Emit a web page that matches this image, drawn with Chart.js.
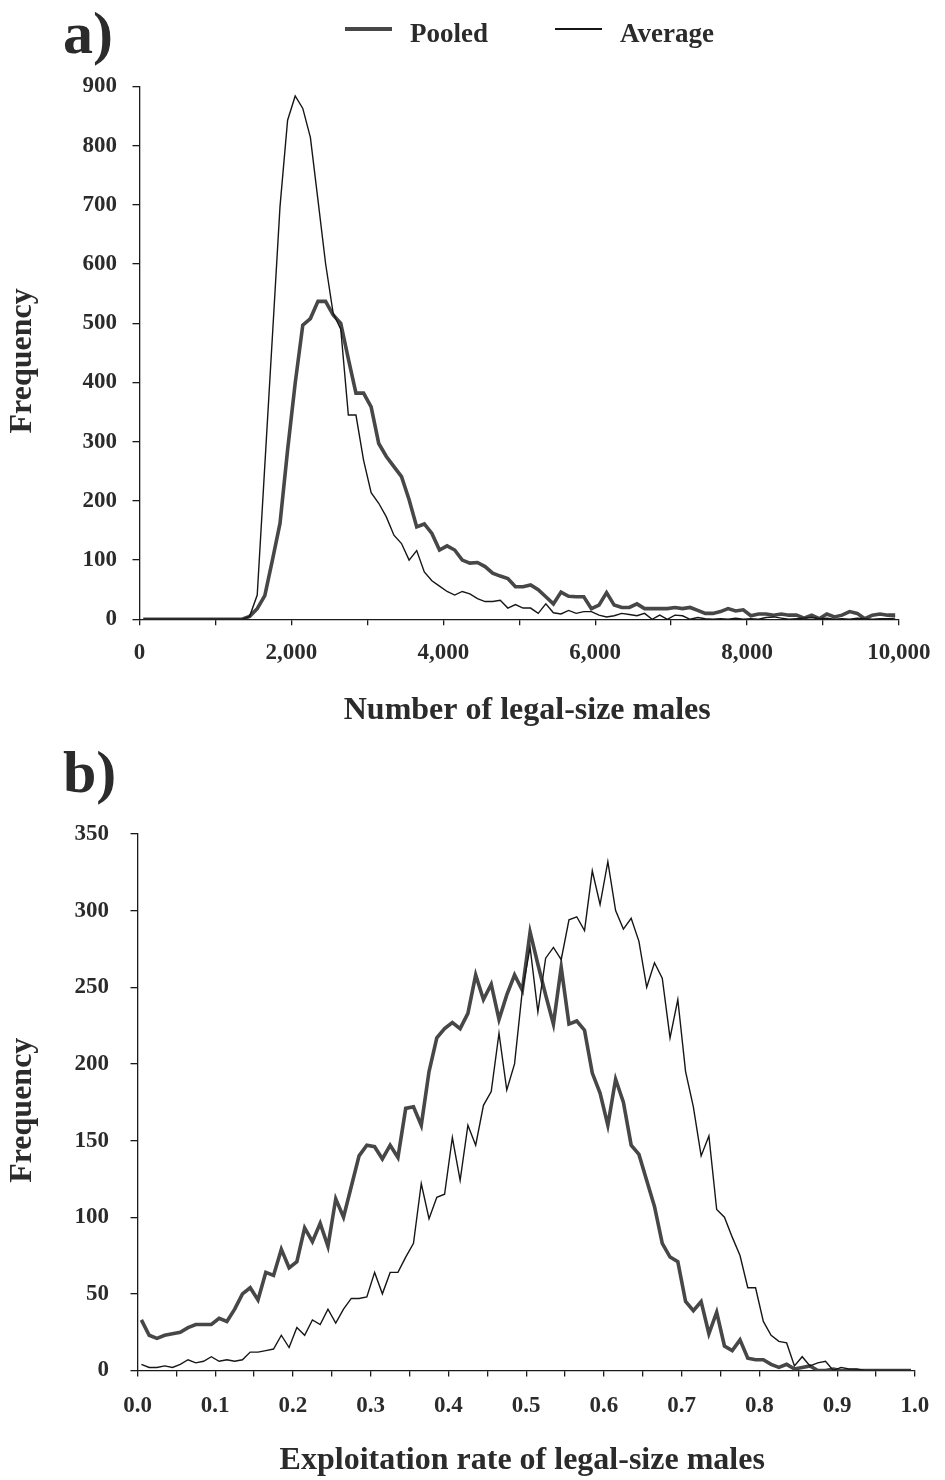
<!DOCTYPE html>
<html>
<head>
<meta charset="utf-8">
<title>Legal-size males: frequency distributions</title>
<script src="https://cdn.jsdelivr.net/npm/chart.js@4.4.1/dist/chart.umd.min.js"></script>
<style>
  html, body { margin: 0; padding: 0; background: #fff; }
  #figure {
    position: relative; width: 945px; height: 1480px; overflow: hidden;
    font-family: 'Liberation Serif', 'Times New Roman', serif; color: #2b2b2b;
  }
  #figure canvas { position: absolute; left: 0; }
  #chart-size { top: 0; }
  #chart-rate { top: 740px; }
  .panel-tag {
    position: absolute; left: 63px; z-index: 2;
    font-size: 60px; font-weight: bold; line-height: 60px;
  }
  #legend-size {
    position: absolute; left: 345px; top: 17.6px; z-index: 2;
    display: flex; font-size: 27px; font-weight: bold; line-height: 30px;
  }
  .lg-item { display: flex; align-items: flex-start; margin-right: 67px; }
  .lg-line { display: block; width: 47px; margin-right: 18px; }
</style>
</head>
<body>
<div id="figure">
  <canvas id="chart-size" width="945" height="740"></canvas>
  <canvas id="chart-rate" width="945" height="740"></canvas>
  <div class="panel-tag" style="top: 2.7px;">a)</div>
  <div class="panel-tag" style="top: 742.2px;">b)</div>
  <div id="legend-size"></div>
</div>
<script>
// a) number of legal-size males, bins of 100 animals
const SIZE_BIN_WIDTH = 100;
const SIZE_POOLED = [
  0, 0, 0, 0, 0, 0, 0, 0, 0, 0,
  0, 0, 0, 0, 5, 18, 40, 100, 162, 286,
  399, 497, 508, 537, 537, 514, 500, 440, 382, 382,
  359, 297, 275, 258, 241, 202, 156, 161, 145, 117,
  124, 117, 100, 95, 96, 89, 78, 73, 69, 55,
  55, 58, 50, 38, 26, 46, 39, 38, 38, 18,
  24, 45, 24, 20, 20, 26, 18, 18, 18, 18,
  20, 18, 20, 15, 10, 10, 13, 18, 14, 16,
  6, 9, 9, 7, 9, 7, 7, 2, 7, 1,
  9, 4, 7, 13, 10, 1, 7, 9, 7, 7
];
const SIZE_AVERAGE = [
  0, 0, 0, 0, 0, 0, 0, 0, 0, 0,
  0, 0, 0, 0, 5, 41, 260, 478, 697, 843,
  884, 863, 814, 708, 601, 517, 490, 345, 345, 269,
  214, 196, 173, 142, 128, 100, 116, 80, 65, 56,
  47, 41, 47, 43, 35, 30, 30, 32, 19, 25,
  19, 19, 10, 26, 11, 9, 15, 10, 13, 13,
  7, 4, 6, 10, 8, 6, 10, 0, 7, 0,
  7, 6, 0, 3, 1, 0, 1, 0, 2, 0,
  1, 0, 3, 4, 2, 0, 1, 2, 3, 1,
  2, 0, 1, 0, 2, 1, 0, 1, 1, 2
];
const SIZE_X_TICKS = [0, 1000, 2000, 3000, 4000, 5000, 6000, 7000, 8000, 9000, 10000];
const SIZE_Y_MAX = 900;
const SIZE_Y_STEP = 100;

// b) exploitation rate, bins of 0.01
const RATE_BIN_WIDTH = 0.01;
const RATE_POOLED = [
  33, 23, 21, 23, 24, 25, 28, 30, 30, 30,
  34, 32, 40, 50, 54, 46, 64, 62, 79, 67,
  71, 93, 84, 96, 81, 112, 100, 120, 140, 147,
  146, 138, 147, 139, 171, 172, 160, 195, 217, 223,
  227, 223, 233, 258, 242, 252, 229, 245, 258, 248,
  286, 265, 245, 226, 263, 226, 228, 222, 194, 181,
  160, 190, 175, 147, 141, 124, 107, 83, 74, 71,
  45, 39, 45, 24, 38, 16, 13, 20, 8, 7,
  7, 4, 2, 4, 1, 2, 3, 0, 0, 1,
  0, 0, 0, 0, 0, 0, 0, 0, 0, 0
];
const RATE_AVERAGE = [
  4, 2, 2, 3, 2, 4, 7, 5, 6, 9,
  6, 7, 6, 7, 12, 12, 13, 14, 23, 15,
  28, 23, 33, 30, 40, 31, 40, 47, 47, 48,
  64, 50, 64, 64, 74, 83, 122, 99, 113, 115,
  152, 124, 160, 147, 173, 182, 220, 183, 200, 248,
  276, 234, 269, 276, 268, 294, 296, 287, 326, 304,
  332, 300, 288, 295, 280, 250, 266, 256, 217, 242,
  195, 172, 140, 153, 105, 100, 87, 75, 54, 54,
  32, 23, 19, 18, 3, 9, 3, 5, 6, 0,
  2, 1, 1, 0, 0, 0, 0, 0, 0, 0
];
const RATE_X_TICKS = [0, 0.05, 0.1, 0.15, 0.2, 0.25, 0.3, 0.35, 0.4, 0.45, 0.5,
  0.55, 0.6, 0.65, 0.7, 0.75, 0.8, 0.85, 0.9, 0.95, 1];
const RATE_Y_MAX = 350;
const RATE_Y_STEP = 50;

const SERIES_STYLE = {
  pooled:  { label: 'Pooled',  color: '#474747', width: 3.6 },
  average: { label: 'Average', color: '#161616', width: 1.4 },
};

const INK = '#1a1a1a';
const TEXT = '#2b2b2b';
const FONT = "'Liberation Serif', 'Times New Roman', serif";
// en space: pads a centred axis title so it sits a few pixels off-centre
const EN = '\u2002';

// each bin is plotted at its midpoint
function binPoints(values, width) {
  return values.map(function(v, i) { return { x: (i + 0.5) * width, y: v }; });
}

function lineDataset(key, values, binWidth, order) {
  var s = SERIES_STYLE[key];
  return {
    label: s.label,
    data: binPoints(values, binWidth),
    borderColor: s.color,
    backgroundColor: s.color,
    borderWidth: s.width,
    pointRadius: 0,
    tension: 0,
    fill: false,
    order: order,
  };
}

function makeChart(canvasId, cfg) {
  var tickFont = { family: FONT, size: 23, weight: 'bold' };
  var titleFont = { family: FONT, size: 32, weight: 'bold' };
  var grid = { drawOnChartArea: false, drawTicks: true, tickLength: 6, color: INK, lineWidth: 1.3 };
  var border = { display: true, color: INK, width: 1.3 };

  return new Chart(document.getElementById(canvasId), {
    type: 'line',
    data: {
      datasets: [
        lineDataset('average', cfg.average, cfg.binWidth, 0),
        lineDataset('pooled', cfg.pooled, cfg.binWidth, 1),
      ],
    },
    options: {
      responsive: false,
      animation: false,
      events: [],
      layout: { padding: cfg.padding },
      plugins: { legend: { display: false }, tooltip: { enabled: false } },
      scales: {
        x: {
          type: 'linear',
          min: cfg.xTicks[0],
          max: cfg.xTicks[cfg.xTicks.length - 1],
          afterBuildTicks: function(axis) {
            axis.ticks = cfg.xTicks.map(function(v) { return { value: v }; });
          },
          afterFit: function(axis) { axis.height = cfg.xAxisHeight; },
          ticks: {
            autoSkip: false, maxRotation: 0, color: TEXT, font: tickFont,
            padding: cfg.xTickPadding,
            callback: function(v, i) { return i % 2 === 0 ? cfg.xLabel(v) : ''; },
          },
          grid: grid,
          border: border,
          title: {
            display: true, text: cfg.xTitle, color: TEXT, font: titleFont,
            padding: { top: 0, bottom: cfg.xTitlePad },
          },
        },
        y: {
          min: 0,
          max: cfg.yMax,
          afterFit: function(axis) { axis.width = cfg.yAxisWidth; },
          ticks: { stepSize: cfg.yStep, color: TEXT, font: tickFont, padding: cfg.yTickPadding },
          grid: Object.assign({}, grid, { tickLength: 7 }),
          border: border,
          title: {
            display: true, text: 'Frequency' + EN, color: TEXT, font: titleFont,
            padding: { top: 4, bottom: 0 },
          },
        },
      },
    },
  });
}

function buildLegend(containerId, keys) {
  var box = document.getElementById(containerId);
  keys.forEach(function(key) {
    var s = SERIES_STYLE[key];
    var item = document.createElement('div');
    item.className = 'lg-item';
    var line = document.createElement('span');
    line.className = 'lg-line';
    line.style.height = s.width + 'px';
    line.style.background = s.color;
    line.style.marginTop = (11.4 - s.width / 2) + 'px';
    var text = document.createElement('span');
    text.textContent = s.label;
    item.appendChild(line);
    item.appendChild(text);
    box.appendChild(item);
  });
}

buildLegend('legend-size', ['pooled', 'average']);

makeChart('chart-size', {
  pooled: SIZE_POOLED,
  average: SIZE_AVERAGE,
  binWidth: SIZE_BIN_WIDTH,
  xTicks: SIZE_X_TICKS,
  xLabel: function(v) { return v.toLocaleString('en-US'); },
  xTitle: EN + 'Number of legal-size males',
  yMax: SIZE_Y_MAX,
  yStep: SIZE_Y_STEP,
  padding: { left: 0, top: 86.5, right: 36, bottom: 0 },
  yAxisWidth: 139.5,
  xAxisHeight: 120.7,
  xTickPadding: 14.4,
  yTickPadding: 15.5,
  xTitlePad: 9.8,
});

makeChart('chart-rate', {
  pooled: RATE_POOLED,
  average: RATE_AVERAGE,
  binWidth: RATE_BIN_WIDTH,
  xTicks: RATE_X_TICKS,
  xLabel: function(v) { return v.toFixed(1); },
  xTitle: 'Exploitation rate of legal-size males ',
  yMax: RATE_Y_MAX,
  yStep: RATE_Y_STEP,
  padding: { left: 0, top: 94, right: 26.7, bottom: 0 },
  yAxisWidth: 137.5,
  xAxisHeight: 109.5,
  xTickPadding: 15.7,
  yTickPadding: 21.5,
  xTitlePad: 0,
});
</script>
</body>
</html>
